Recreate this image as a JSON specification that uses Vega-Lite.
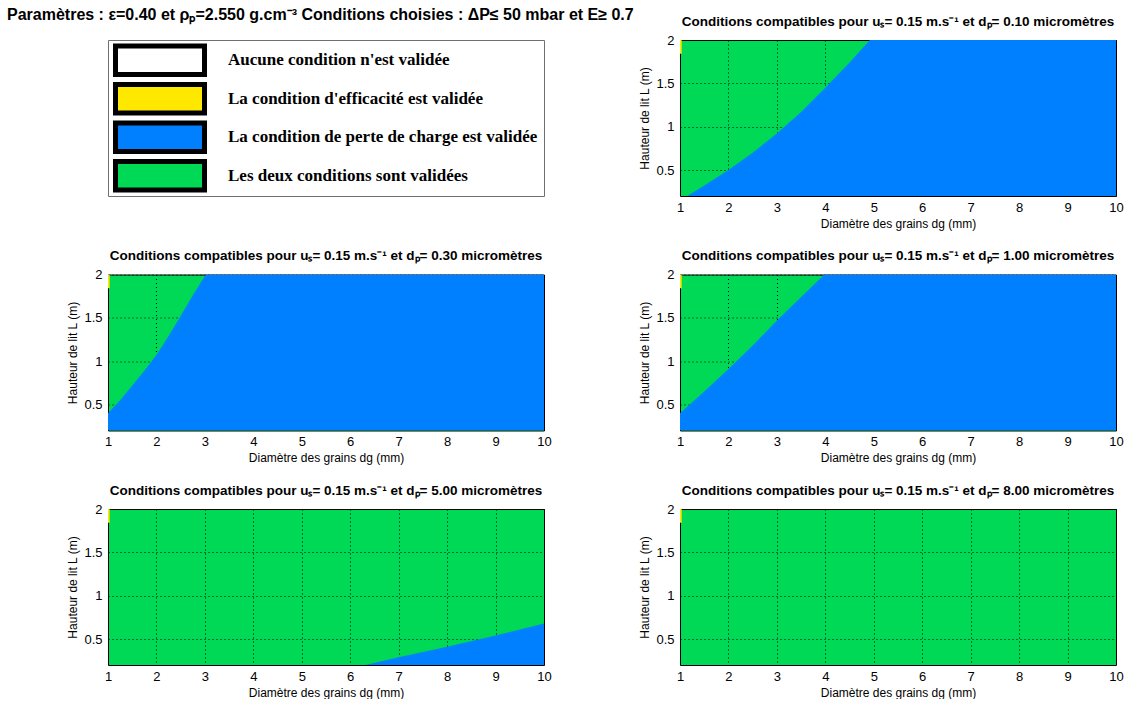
{
  "$schema": "https://vega.github.io/schema/vega-lite/v6.json",
  "padding": {"left": 6, "top": 6, "right": 0, "bottom": 0},
  "background": "white",
  "columns": 2,
  "spacing": {"row": 78.5, "column": 136},
  "bounds": "flush",
  "datasets": {
    "legend": [
      {"label": "Aucune condition n'est validée"},
      {"label": "La condition d'efficacité est validée"},
      {"label": "La condition de perte de charge est validée"},
      {"label": "Les deux conditions sont validées"}
    ],
    "blue": [
      {"panel": 0.1, "dg": 1.0, "L": 0.2},
      {"panel": 0.1, "dg": 1.15, "L": 0.2},
      {"panel": 0.1, "dg": 1.25, "L": 0.235},
      {"panel": 0.1, "dg": 1.5, "L": 0.32},
      {"panel": 0.1, "dg": 1.75, "L": 0.41},
      {"panel": 0.1, "dg": 2.0, "L": 0.5},
      {"panel": 0.1, "dg": 2.5, "L": 0.7},
      {"panel": 0.1, "dg": 3.0, "L": 0.92},
      {"panel": 0.1, "dg": 3.5, "L": 1.17},
      {"panel": 0.1, "dg": 4.0, "L": 1.45},
      {"panel": 0.1, "dg": 4.5, "L": 1.74},
      {"panel": 0.1, "dg": 4.92, "L": 2.0},
      {"panel": 0.1, "dg": 10.0, "L": 2.0},
      {"panel": 0.3, "dg": 1.0, "L": 0.4},
      {"panel": 0.3, "dg": 1.25, "L": 0.55},
      {"panel": 0.3, "dg": 1.5, "L": 0.72},
      {"panel": 0.3, "dg": 1.75, "L": 0.89},
      {"panel": 0.3, "dg": 2.0, "L": 1.07},
      {"panel": 0.3, "dg": 2.25, "L": 1.29},
      {"panel": 0.3, "dg": 2.5, "L": 1.52},
      {"panel": 0.3, "dg": 2.75, "L": 1.76},
      {"panel": 0.3, "dg": 3.02, "L": 2.0},
      {"panel": 0.3, "dg": 10.0, "L": 2.0},
      {"panel": 1.0, "dg": 1.0, "L": 0.4},
      {"panel": 1.0, "dg": 1.5, "L": 0.65},
      {"panel": 1.0, "dg": 2.0, "L": 0.91},
      {"panel": 1.0, "dg": 2.5, "L": 1.18},
      {"panel": 1.0, "dg": 3.0, "L": 1.47},
      {"panel": 1.0, "dg": 3.5, "L": 1.74},
      {"panel": 1.0, "dg": 3.98, "L": 2.0},
      {"panel": 1.0, "dg": 10.0, "L": 2.0},
      {"panel": 5.0, "dg": 6.31, "L": 0.2},
      {"panel": 5.0, "dg": 7.0, "L": 0.29},
      {"panel": 5.0, "dg": 8.0, "L": 0.41},
      {"panel": 5.0, "dg": 9.0, "L": 0.54},
      {"panel": 5.0, "dg": 10.0, "L": 0.68}
    ],
    "yellow": [
      {"dg": 1.0, "dg2": 1.035, "L": 1.84, "L2": 2.0}
    ]
  },
  "concat": [
    {
      "title": {"text": "Paramètres : ε=0.40 et ρₚ=2.550 g.cm⁻³ Conditions choisies : ΔP≤ 50 mbar et E≥ 0.7", "anchor": "start", "dx": -101, "fontSize": 16, "fontWeight": "bold", "offset": 17},
      "width": 436,
      "height": 156,
      "view": {"fill": "white", "stroke": "#707070"},
      "data": {"name": "legend"},
      "layer": [
        {
          "mark": {"type": "rect", "stroke": "black", "strokeWidth": 5},
          "encoding": {
            "y": {"field": "label", "type": "nominal", "sort": null, "scale": {"paddingInner": 0.256, "paddingOuter": 0.153}, "axis": null},
            "x": {"datum": 7.5, "type": "quantitative", "scale": {"domain": [0, 436], "nice": false, "zero": false}, "axis": null},
            "x2": {"datum": 96.5},
            "color": {"field": "label", "type": "nominal", "sort": null, "scale": {"domain": ["Aucune condition n'est validée", "La condition d'efficacité est validée", "La condition de perte de charge est validée", "Les deux conditions sont validées"], "range": ["#ffffff", "#ffe800", "#0080ff", "#00d955"]}, "legend": null}
          }
        },
        {
          "mark": {"type": "text", "align": "left", "baseline": "middle", "font": "Liberation Serif", "fontWeight": "bold", "fontSize": 17, "color": "black"},
          "encoding": {
            "y": {"field": "label", "type": "nominal", "sort": null, "axis": null},
            "x": {"datum": 120, "type": "quantitative"},
            "text": {"field": "label"}
          }
        }
      ]
    },
    {
      "title": "Conditions compatibles pour uₛ= 0.15 m.s⁻¹ et dₚ= 0.10 micromètres",
      "width": 436, "height": 156,
      "view": {"fill": "#00d955", "stroke": "black"},
      "layer": [
        {
          "data": {"name": "blue"},
          "transform": [{"filter": "datum.panel == 0.1"}],
          "mark": {"type": "area", "color": "#0080ff", "clip": true},
          "encoding": {
            "x": {"field": "dg", "type": "quantitative", "scale": {"domain": [1, 10], "nice": false, "zero": false}, "axis": {"values": [1,2,3,4,5,6,7,8,9,10], "format": "d", "title": "Diamètre des grains dg (mm)"}},
            "y": {"field": "L", "type": "quantitative", "scale": {"domain": [0.2, 2], "nice": false, "zero": false}, "axis": {"values": [0.5,1,1.5,2], "format": "~g", "title": "Hauteur de lit L (m)"}},
            "y2": {"datum": 0.2}
          }
        },
        {
          "data": {"name": "yellow"},
          "mark": {"type": "rect", "color": "#ffe800", "clip": true},
          "encoding": {
            "x": {"field": "dg", "type": "quantitative", "title": "Diamètre des grains dg (mm)"},
            "x2": {"field": "dg2"},
            "y": {"field": "L", "type": "quantitative", "title": "Hauteur de lit L (m)"},
            "y2": {"field": "L2"}
          }
        }
      ]
    },
    {
      "title": "Conditions compatibles pour uₛ= 0.15 m.s⁻¹ et dₚ= 0.30 micromètres",
      "width": 436, "height": 156,
      "view": {"fill": "#00d955", "stroke": "black"},
      "layer": [
        {
          "data": {"name": "blue"},
          "transform": [{"filter": "datum.panel == 0.3"}],
          "mark": {"type": "area", "color": "#0080ff", "clip": true},
          "encoding": {
            "x": {"field": "dg", "type": "quantitative", "scale": {"domain": [1, 10], "nice": false, "zero": false}, "axis": {"values": [1,2,3,4,5,6,7,8,9,10], "format": "d", "title": "Diamètre des grains dg (mm)"}},
            "y": {"field": "L", "type": "quantitative", "scale": {"domain": [0.2, 2], "nice": false, "zero": false}, "axis": {"values": [0.5,1,1.5,2], "format": "~g", "title": "Hauteur de lit L (m)"}},
            "y2": {"datum": 0.2}
          }
        },
        {
          "data": {"name": "yellow"},
          "mark": {"type": "rect", "color": "#ffe800", "clip": true},
          "encoding": {
            "x": {"field": "dg", "type": "quantitative", "title": "Diamètre des grains dg (mm)"},
            "x2": {"field": "dg2"},
            "y": {"field": "L", "type": "quantitative", "title": "Hauteur de lit L (m)"},
            "y2": {"field": "L2"}
          }
        }
      ]
    },
    {
      "title": "Conditions compatibles pour uₛ= 0.15 m.s⁻¹ et dₚ= 1.00 micromètres",
      "width": 436, "height": 156,
      "view": {"fill": "#00d955", "stroke": "black"},
      "layer": [
        {
          "data": {"name": "blue"},
          "transform": [{"filter": "datum.panel == 1"}],
          "mark": {"type": "area", "color": "#0080ff", "clip": true},
          "encoding": {
            "x": {"field": "dg", "type": "quantitative", "scale": {"domain": [1, 10], "nice": false, "zero": false}, "axis": {"values": [1,2,3,4,5,6,7,8,9,10], "format": "d", "title": "Diamètre des grains dg (mm)"}},
            "y": {"field": "L", "type": "quantitative", "scale": {"domain": [0.2, 2], "nice": false, "zero": false}, "axis": {"values": [0.5,1,1.5,2], "format": "~g", "title": "Hauteur de lit L (m)"}},
            "y2": {"datum": 0.2}
          }
        },
        {
          "data": {"name": "yellow"},
          "mark": {"type": "rect", "color": "#ffe800", "clip": true},
          "encoding": {
            "x": {"field": "dg", "type": "quantitative", "title": "Diamètre des grains dg (mm)"},
            "x2": {"field": "dg2"},
            "y": {"field": "L", "type": "quantitative", "title": "Hauteur de lit L (m)"},
            "y2": {"field": "L2"}
          }
        }
      ]
    },
    {
      "title": "Conditions compatibles pour uₛ= 0.15 m.s⁻¹ et dₚ= 5.00 micromètres",
      "width": 436, "height": 156,
      "view": {"fill": "#00d955", "stroke": "black"},
      "layer": [
        {
          "data": {"name": "blue"},
          "transform": [{"filter": "datum.panel == 5"}],
          "mark": {"type": "area", "color": "#0080ff", "clip": true},
          "encoding": {
            "x": {"field": "dg", "type": "quantitative", "scale": {"domain": [1, 10], "nice": false, "zero": false}, "axis": {"values": [1,2,3,4,5,6,7,8,9,10], "format": "d", "title": "Diamètre des grains dg (mm)"}},
            "y": {"field": "L", "type": "quantitative", "scale": {"domain": [0.2, 2], "nice": false, "zero": false}, "axis": {"values": [0.5,1,1.5,2], "format": "~g", "title": "Hauteur de lit L (m)"}},
            "y2": {"datum": 0.2}
          }
        },
        {
          "data": {"name": "yellow"},
          "mark": {"type": "rect", "color": "#ffe800", "clip": true},
          "encoding": {
            "x": {"field": "dg", "type": "quantitative", "title": "Diamètre des grains dg (mm)"},
            "x2": {"field": "dg2"},
            "y": {"field": "L", "type": "quantitative", "title": "Hauteur de lit L (m)"},
            "y2": {"field": "L2"}
          }
        }
      ]
    },
    {
      "title": "Conditions compatibles pour uₛ= 0.15 m.s⁻¹ et dₚ= 8.00 micromètres",
      "width": 436, "height": 156,
      "view": {"fill": "#00d955", "stroke": "black"},
      "layer": [
        {
          "data": {"name": "blue"},
          "transform": [{"filter": "datum.panel == 8"}],
          "mark": {"type": "area", "color": "#0080ff", "clip": true},
          "encoding": {
            "x": {"field": "dg", "type": "quantitative", "scale": {"domain": [1, 10], "nice": false, "zero": false}, "axis": {"values": [1,2,3,4,5,6,7,8,9,10], "format": "d", "title": "Diamètre des grains dg (mm)"}},
            "y": {"field": "L", "type": "quantitative", "scale": {"domain": [0.2, 2], "nice": false, "zero": false}, "axis": {"values": [0.5,1,1.5,2], "format": "~g", "title": "Hauteur de lit L (m)"}},
            "y2": {"datum": 0.2}
          }
        },
        {
          "data": {"name": "yellow"},
          "mark": {"type": "rect", "color": "#ffe800", "clip": true},
          "encoding": {
            "x": {"field": "dg", "type": "quantitative", "title": "Diamètre des grains dg (mm)"},
            "x2": {"field": "dg2"},
            "y": {"field": "L", "type": "quantitative", "title": "Hauteur de lit L (m)"},
            "y2": {"field": "L2"}
          }
        }
      ]
    }
  ],
  "config": {
    "font": "Liberation Sans",
    "title": {"font": "Liberation Sans", "fontSize": 13.5, "fontWeight": "bold", "color": "black", "offset": 6},
    "axis": {
      "domain": false, "ticks": false, "grid": true,
      "gridColor": "black", "gridDash": [1, 3], "gridOpacity": 1, "gridWidth": 1,
      "labelFont": "Liberation Sans", "labelFontSize": 13, "labelColor": "black",
      "labelFlush": false, "labelOverlap": false, "labelPadding": 5,
      "titleFont": "Liberation Sans", "titleFontSize": 12, "titleFontWeight": "normal", "titleColor": "black", "titlePadding": 4,
      "zindex": 1
    },
    "axisY": {"labelPadding": 6}
  }
}
